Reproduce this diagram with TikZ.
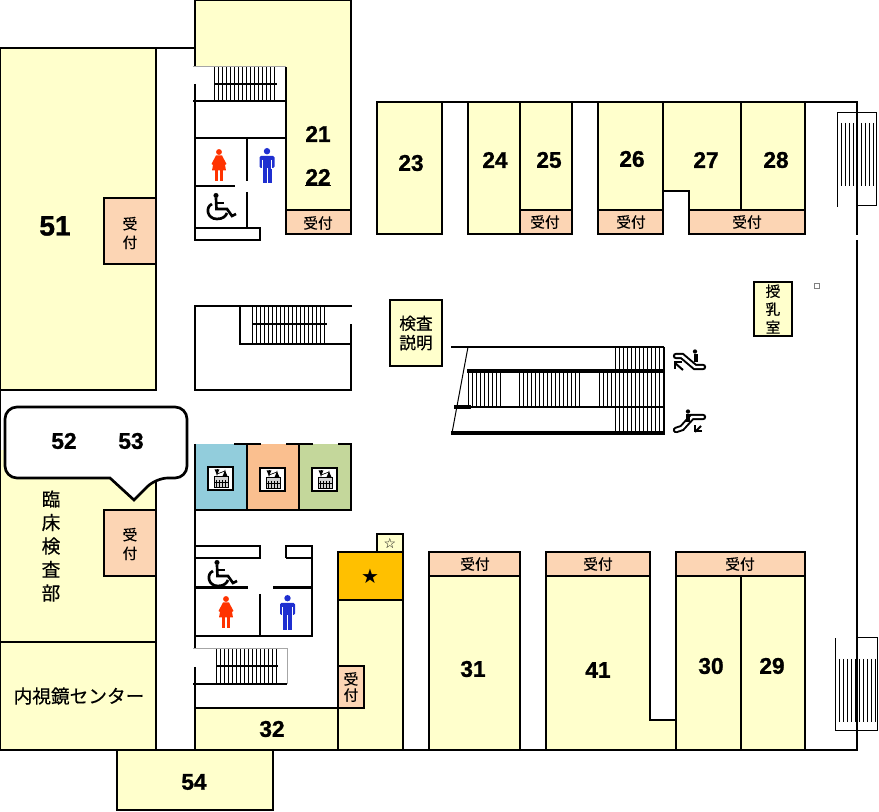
\documentclass[tikz,border=0pt]{standalone}
\usepackage{fontspec}
\setmainfont{Liberation Sans}
\newfontfamily\numfont[FakeBold=1.2]{Liberation Sans Bold}
\newfontfamily\jpfont[FakeBold=.4]{Noto Sans CJK JP}
\newfontfamily\symbolfont{DejaVu Sans}
\definecolor{roomyellow}{HTML}{FFFFCC}
\definecolor{deskpeach}{HTML}{FCD5B4}
\definecolor{starorange}{HTML}{FFC000}
\definecolor{liftblue}{HTML}{92CDDC}
\definecolor{liftorange}{HTML}{FABF8F}
\definecolor{liftgreen}{HTML}{C4D79B}
\definecolor{manblue}{HTML}{1F2FD0}
\definecolor{womanred}{HTML}{FF3300}
\tikzset{
  wall/.style={line width=2pt},
  thinwall/.style={line width=.75pt},
  tread/.style={line width=.7pt},
  room/.style={wall, fill=roomyellow},
  desk/.style={wall, fill=deskpeach},
  numlabel/.style={font=\numfont\fontsize{17}{17}\selectfont, inner sep=0pt},
  desklabel/.style={font=\jpfont\fontsize{11}{14}\selectfont, inner sep=0pt, align=center},
  roomlabel/.style={font=\jpfont\fontsize{12.5}{14.5}\selectfont, inner sep=0pt, align=center},
  liftbox/.style={line width=1pt, fill=white},
  stairgray/.style={thinwall, gray!70},
}
\newcommand{\womanicon}[2]{
  \begin{scope}[shift={(#1,#2)}]
    \fill[womanred] (0,3) circle[radius=2.2pt];
    \fill[womanred] (-3,6.5) -- (3,6.5) -- (7.5,15) -- (6,16) -- (7,21.5) -- (-7,21.5) -- (-6,16) -- (-7.5,15) -- cycle;
    \fill[womanred] (-4,21) rectangle (-1,32);
    \fill[womanred] (1,21) rectangle (4,32);
  \end{scope}
}
\newcommand{\manicon}[2]{
  \begin{scope}[shift={(#1,#2)}]
    \fill[manblue] (0,3.2) circle[radius=2.4pt];
    \fill[manblue, rounded corners=1pt] (-7.5,8) rectangle (7.5,20);
    \fill[manblue] (-4.5,19) rectangle (-.5,35);
    \fill[manblue] (.5,19) rectangle (4.5,35);
    \draw[white, line width=.5pt] (-4.8,12) -- (-4.8,21);
    \draw[white, line width=.5pt] (4.8,12) -- (4.8,21);
  \end{scope}
}
\newcommand{\wheelicon}[2]{
  \begin{scope}[shift={(#1,#2)}]
    \fill (9,1.5) circle[radius=1.9pt];
    \draw[line width=2pt] (9,4) -- (9.5,15) -- (20,15) -- (25,22) -- (29,20);
    \draw[line width=2pt] (9.5,9) -- (17,9);
    \draw[line width=2pt] (5,10) .. controls (-2,13) and (0,25) .. (10,25) .. controls (16,25) and (19,22) .. (20,19);
  \end{scope}
}
\newcommand{\lifticon}[2]{
  \begin{scope}[shift={(#1,#2)}]
    \draw[liftbox] (0,0) rectangle (25,23);
    \draw[line width=.7pt, -latex] (9,2.5) -- (9,9);
    \draw[line width=.7pt, -latex] (17,9) -- (17,2.5);
    \draw[line width=.5pt] (9,7) -- (17,4);
    \draw[line width=.75pt, fill=gray!35] (6,10) rectangle (20,21);
    \foreach \gx in {8.5,11.5,14.5,17.5} \draw[line width=1pt] (\gx,13) -- (\gx,20);
    \draw[line width=.6pt] (6,15.5) -- (20,15.5);
  \end{scope}
}
\begin{document}
\begin{tikzpicture}[x=.75pt, y=-.75pt]
  \useasboundingbox (0,0) rectangle (879,812);

  \draw[room] (0,48) rectangle (156,390);
  \draw[wall] (156,48) -- (195,48);
  \draw[wall] (0,390) -- (0,450);
  \fill[roomyellow] (0,450) rectangle (156,642);
  \draw[wall] (0,450) -- (0,642) -- (156,642) -- (156,450);
  \draw[room] (0,642) rectangle (156,750);
  \draw[desk] (104,198) rectangle (156,264);
  \draw[desk] (104,510) rectangle (156,576);
  \draw[room] (117,750) rectangle (273,810);

  \fill[roomyellow] (195,67) -- (195,0) -- (351,0) -- (351,234) -- (286,234) -- (286,67) -- cycle;
  \draw[wall] (195,67) -- (195,0) -- (351,0) -- (351,234) -- (286,234) -- (286,67);
  \draw[desk] (286,210) rectangle (351,234);
  \draw[room] (377,102) rectangle (442,234);
  \draw[room] (468,102) rectangle (520,234);
  \draw[room] (520,102) rectangle (572,234);
  \draw[desk] (520,210) rectangle (572,234);
  \draw[room] (598,102) rectangle (663,234);
  \draw[desk] (598,210) rectangle (663,234);
  \draw[room] (663,102) -- (741,102) -- (741,210) -- (689,210) -- (689,191) -- (663,191) -- cycle;
  \draw[room] (741,102) rectangle (805,210);
  \draw[desk] (689,210) rectangle (805,234);
  \draw[wall] (377,102) -- (857,102) -- (857,235);
  \draw[wall] (857,240) -- (857,750) -- (0,750);

  \draw[room] (195,708) rectangle (338,750);
  \draw[room] (338,600) rectangle (403,750);
  \draw[wall, fill=starorange] (338,552) rectangle (403,600);
  \draw[room] (377,534) rectangle (403,552);
  \draw[desk] (338,666) rectangle (364,708);
  \draw[room] (429,552) rectangle (520,750);
  \draw[desk] (429,552) rectangle (520,576);
  \draw[room] (546,576) -- (650,576) -- (650,720) -- (676,720) -- (676,750) -- (546,750) -- cycle;
  \draw[desk] (546,552) rectangle (650,576);
  \draw[room] (676,576) rectangle (741,750);
  \draw[room] (741,576) rectangle (805,750);
  \draw[desk] (676,552) rectangle (805,576);
  \draw[room] (390,300) rectangle (442,366);
  \draw[room] (754,282) rectangle (792,336);
  \draw[gray, line width=.5pt] (814,283) rectangle (819,288);

  \draw[wall] (195,101) -- (195,228);
  \draw[wall] (195,228) rectangle (260,240);
  \draw[wall] (195,138) -- (286,138);
  \draw[wall] (247,138) -- (247,181);
  \draw[wall] (247,192) -- (247,228);
  \draw[wall] (195,186) -- (235,186);
  \draw[stairgray] (193,66.5) -- (286,66.5);
  \draw[wall] (193,101) -- (286,101);
  \draw[wall] (195,84) -- (195,101);
  \foreach \tx in {214,218,...,276} \draw[tread] (\tx,67) -- (\tx,100);
  \draw[line width=1.5pt] (214,84) -- (277,84);

  \draw[wall] (352,306) -- (195,306) -- (195,390) -- (351,390) -- (351,324);
  \draw[line width=1.5pt] (240,306) -- (240,344) -- (351,344);
  \foreach \tx in {252,256,...,325} \draw[tread] (\tx,306) -- (\tx,343);
  \draw[wall] (252,324) -- (327,324);

  \fill[liftblue] (195,444) rectangle (247,510);
  \fill[liftorange] (247,444) rectangle (299,510);
  \fill[liftgreen] (299,444) rectangle (351,510);
  \draw[wall] (195,444) -- (195,649);
  \draw[wall] (195,510) -- (351,510) -- (351,444) -- (338,444);
  \draw[wall] (247,444) -- (247,510);
  \draw[wall] (299,444) -- (299,510);
  \draw[wall] (234,444) -- (261,444);
  \draw[wall] (286,444) -- (313,444);
  \lifticon{208}{467}
  \lifticon{260}{468}
  \lifticon{312}{468}

  \draw[wall] (195,546) rectangle (260,558);
  \draw[wall] (286,558) -- (286,546) -- (312,546) -- (312,636) -- (195,636);
  \draw[wall] (286,558) -- (312,558);
  \draw[wall] (195,587.5) -- (248,587.5);
  \draw[wall] (273,587.5) -- (312,587.5);
  \draw[wall] (260,594) -- (260,636);
  \draw[stairgray] (193,649) -- (287,649) -- (287,684);
  \draw[wall] (193,684) -- (287,684);
  \draw[wall] (195,667) -- (195,708);
  \foreach \tx in {216,220,...,277} \draw[tread] (\tx,649) -- (\tx,683);
  \draw[line width=1.5pt] (216,666) -- (278,666);

  \womanicon{219}{149}
  \manicon{267}{148}
  \wheelicon{207}{194}
  \wheelicon{208}{561}
  \womanicon{226}{596}
  \manicon{287.5}{595}

  \draw[line width=1.8pt] (451,347) -- (664,347);
  \draw[line width=3pt] (467,371) -- (664,371);
  \draw[wall] (467,407) -- (664,407);
  \draw[line width=3pt] (454,407) -- (471,407);
  \draw[line width=3pt] (451,433) -- (665,433);
  \draw[wall] (664,347) -- (664,434);
  \draw[thinwall] (468,347) -- (452,433);
  \foreach \tx in {615,619,...,664} \draw[tread] (\tx,347) -- (\tx,371);
  \foreach \tx in {615,619,...,664} \draw[tread] (\tx,407) -- (\tx,433);
  \foreach \tx in {468,472,...,500} \draw[tread] (\tx,371) -- (\tx,407);
  \foreach \tx in {519,523,...,580} \draw[tread] (\tx,371) -- (\tx,407);
  \foreach \tx in {599,603,...,664} \draw[tread] (\tx,371) -- (\tx,407);

  \draw[line width=4.8pt, line cap=round] (676,356) -- (682,356) -- (695,367) -- (703,367);
  \draw[white, line width=1.8pt, line cap=round] (676,356) -- (682,356) -- (695,367) -- (703,367);
  \fill (695,351.5) circle[radius=1.6pt];
  \draw[line width=3pt] (695.5,354.5) -- (695.5,362);
  \draw[line width=1.5pt] (683,370) -- (675,363);
  \draw[line width=1.5pt] (681.5,362.5) -- (674.5,362.5) -- (674.5,369.5);
  \draw[line width=4.8pt, line cap=round] (676,430) -- (682,428) -- (692,417) -- (703,417);
  \draw[white, line width=1.8pt, line cap=round] (676,430) -- (682,428) -- (692,417) -- (703,417);
  \fill (688,411.5) circle[radius=1.6pt];
  \draw[line width=3pt] (688,414.5) -- (688,422);
  \draw[line width=1.5pt] (701,426) -- (695,432);
  \draw[line width=1.5pt] (702,431.5) -- (695,431.5) -- (695,425);

  \draw[thinwall] (837,207) -- (837,113) -- (876,113) -- (876,206) -- (857,206);
  \foreach \tx in {841,845,...,874} \draw[tread] (\tx,123) -- (\tx,186);
  \draw[thinwall] (857,638) -- (877,638) -- (877,731) -- (835,731) -- (835,638);
  \foreach \tx in {839,843,...,875} \draw[tread] (\tx,659) -- (\tx,722);

  \draw[wall, fill=white, rounded corners=9pt] (110,478) -- (5,478) -- (5,407) -- (187,407) -- (187,478) -- (156,478)
    [sharp corners] -- (134,500) -- cycle;

  \node[numlabel, font=\numfont\fontsize{21}{21}\selectfont] (r51) at (55,226) {51};
  \node[numlabel] (r21) at (318,134) {21};
  \node[numlabel] (r22) at (318,177) {22};
  \draw[thinwall] (r22.south west) -- (r22.south east);
  \node[numlabel] (r23) at (411,163) {23};
  \node[numlabel] (r24) at (495,160) {24};
  \node[numlabel] (r25) at (549,160) {25};
  \node[numlabel] (r26) at (632,159) {26};
  \node[numlabel] (r27) at (706,160) {27};
  \node[numlabel] (r28) at (776,160) {28};
  \node[numlabel] (r52) at (64,441) {52};
  \node[numlabel] (r53) at (131,441) {53};
  \node[numlabel] (r32) at (272,729) {32};
  \node[numlabel] (r31) at (473,669) {31};
  \node[numlabel] (r41) at (598,670) {41};
  \node[numlabel] (r30) at (711,666) {30};
  \node[numlabel] (r29) at (772,666) {29};
  \node[numlabel] (r54) at (194,782) {54};

  \node[desklabel] (d51) at (130,233) {受\\付};
  \node[desklabel] (d52) at (130,544) {受\\付};
  \node[desklabel] (d21) at (318,223) {受付};
  \node[desklabel] (d25) at (545,222) {受付};
  \node[desklabel] (d26) at (631,222) {受付};
  \node[desklabel] (d27) at (747,222) {受付};
  \node[desklabel, font=\jpfont\fontsize{11}{12}\selectfont] (d32) at (351,687) {受\\付};
  \node[desklabel] (d31) at (475,564) {受付};
  \node[desklabel] (d41) at (598,564) {受付};
  \node[desklabel] (d30) at (740,564) {受付};

  \node[roomlabel, font=\jpfont\fontsize{14}{17.6}\selectfont] (lab) at (51,546) {臨\\床\\検\\査\\部};
  \node[roomlabel, font=\jpfont\fontsize{14}{14}\selectfont] (endo) at (79,696) {内視鏡センター};
  \node[roomlabel] (exam) at (416,333) {検査\\説明};
  \node[desklabel, font=\jpfont\fontsize{11}{13.5}\selectfont] (nurse) at (773,309) {授\\乳\\室};
  \node[inner sep=0pt, font=\symbolfont\fontsize{15}{15}\selectfont] (star) at (370,576) {★};
  \node[inner sep=0pt, font=\symbolfont\fontsize{10.5}{10.5}\selectfont] (whitestar) at (390,543) {☆};
\end{tikzpicture}
\end{document}
